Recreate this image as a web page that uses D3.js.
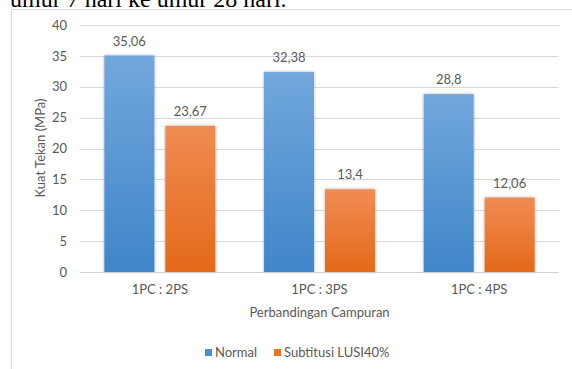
<!DOCTYPE html>
<html>
<head>
<meta charset="utf-8">
<script src="https://cdn.jsdelivr.net/npm/d3@7"></script>
<style>
  html, body { margin: 0; padding: 0; background: #fff; }
  svg { display: block; }
</style>
</head>
<body>
<svg id="chart" width="572" height="369"></svg>
<script>
// Compressive strength by mix ratio, normal vs. LUSI 40% substitution
const categories = ["1PC : 2PS", "1PC : 3PS", "1PC : 4PS"];
const seriesNames = ["Normal", "Subtitusi LUSI40%"];
const normalValues = [35.06, 32.38, 28.8];
const lusiValues = [23.67, 13.4, 12.06];
const valueLabels = [["35,06", "32,38", "28,8"], ["23,67", "13,4", "12,06"]];
const yTicks = [0, 5, 10, 15, 20, 25, 30, 35, 40];

const svg = d3.select("#chart");
const fontUI = "Lato, 'Open Sans', sans-serif";
const textColor = "#595959";

const defs = svg.append("defs");
const grads = [
  { id: "gBlue", top: "#72a7dd", bottom: "#3f86c9" },
  { id: "gOrange", top: "#f08c52", bottom: "#e4691a" }
];
grads.forEach(g => {
  const lg = defs.append("linearGradient").attr("id", g.id)
    .attr("x1", 0).attr("y1", 0).attr("x2", 0).attr("y2", 1);
  lg.append("stop").attr("offset", "0%").attr("stop-color", g.top);
  lg.append("stop").attr("offset", "100%").attr("stop-color", g.bottom);
});
const shadow = defs.append("filter").attr("id", "barShadow")
  .attr("x", "-20%").attr("y", "-5%").attr("width", "140%").attr("height", "110%");
shadow.append("feDropShadow").attr("dx", 0).attr("dy", 0)
  .attr("stdDeviation", 1.6).attr("flood-color", "#000").attr("flood-opacity", 0.35);

// Caption line from the surrounding document, running off the top edge
svg.append("text")
  .attr("x", 10).attr("y", 7)
  .attr("font-family", "'Liberation Serif', 'Times New Roman', serif")
  .attr("font-size", 24)
  .attr("fill", "#000")
  .text("umur 7 hari ke umur 28 hari.");

// Chart frame
svg.append("rect")
  .attr("x", 11.5).attr("y", 9.5)
  .attr("width", 600).attr("height", 400)
  .attr("fill", "#fff").attr("stroke", "#d9d9d9").attr("stroke-width", 1);

const plot = { left: 80, right: 559, top: 25, bottom: 272 };

const x0 = d3.scaleBand().domain(categories)
  .range([plot.left, plot.right]).paddingInner(0).paddingOuter(0);
const x1 = d3.scaleBand().domain(seriesNames)
  .range([0, x0.bandwidth()]).paddingInner(0.18).paddingOuter(0.40);
const y = d3.scaleLinear().domain([0, 40]).range([plot.bottom, plot.top]);

// Gridlines
svg.append("g").selectAll("line").data(yTicks.filter(t => t > 0)).join("line")
  .attr("x1", plot.left).attr("x2", plot.right)
  .attr("y1", d => Math.round(y(d)) + 0.5).attr("y2", d => Math.round(y(d)) + 0.5)
  .attr("stroke", "#d9d9d9").attr("stroke-width", 1);

// Y axis labels
const yAxis = d3.axisLeft(y).tickValues(yTicks).tickSize(0).tickPadding(13);
const gy = svg.append("g").attr("transform", `translate(${plot.left},0)`).call(yAxis);
gy.select(".domain").remove();
gy.selectAll("text")
  .attr("font-family", fontUI).attr("font-size", 13).attr("fill", textColor);

// Bars
const series = [normalValues, lusiValues];
const fills = ["url(#gBlue)", "url(#gOrange)"];
series.forEach((vals, si) => {
  svg.append("g").selectAll("rect").data(vals).join("rect")
    .attr("x", (d, i) => x0(categories[i]) + x1(seriesNames[si]))
    .attr("width", x1.bandwidth())
    .attr("y", d => y(d))
    .attr("height", d => y(0) - y(d))
    .attr("fill", fills[si])
    .attr("filter", "url(#barShadow)");
  svg.append("g").selectAll("text").data(vals).join("text")
    .attr("x", (d, i) => x0(categories[i]) + x1(seriesNames[si]) + x1.bandwidth() / 2)
    .attr("y", d => y(d) - 10)
    .attr("text-anchor", "middle")
    .attr("font-family", fontUI).attr("font-size", 13).attr("fill", textColor)
    .text((d, i) => valueLabels[si][i]);
});

// X axis baseline and category labels
svg.append("line")
  .attr("x1", plot.left).attr("x2", plot.right)
  .attr("y1", Math.round(y(0)) + 0.5).attr("y2", Math.round(y(0)) + 0.5)
  .attr("stroke", "#d0d0d0").attr("stroke-width", 1);
const xAxis = d3.axisBottom(x0).tickSize(0).tickPadding(13);
const gx = svg.append("g").attr("transform", `translate(0,${y(0)})`).call(xAxis);
gx.select(".domain").remove();
gx.selectAll("text")
  .attr("font-family", fontUI).attr("font-size", 13).attr("fill", textColor);

// Axis titles
svg.append("text")
  .attr("x", (plot.left + plot.right) / 2).attr("y", 317)
  .attr("text-anchor", "middle")
  .attr("font-family", fontUI).attr("font-size", 13).attr("fill", textColor)
  .text("Perbandingan Campuran");
svg.append("text")
  .attr("transform", `translate(45,148) rotate(-90)`)
  .attr("text-anchor", "middle")
  .attr("font-family", fontUI).attr("font-size", 13).attr("fill", textColor)
  .text("Kuat Tekan (MPa)");

// Legend
const legendColors = ["#4a90d4", "#ed7424"];
const legendX = [205, 274];
seriesNames.forEach((name, i) => {
  svg.append("rect")
    .attr("x", legendX[i]).attr("y", 349)
    .attr("width", 7).attr("height", 7)
    .attr("fill", legendColors[i]);
  svg.append("text")
    .attr("x", legendX[i] + 10).attr("y", 357)
    .attr("font-family", fontUI).attr("font-size", 13).attr("fill", textColor)
    .text(name);
});
</script>
</body>
</html>
